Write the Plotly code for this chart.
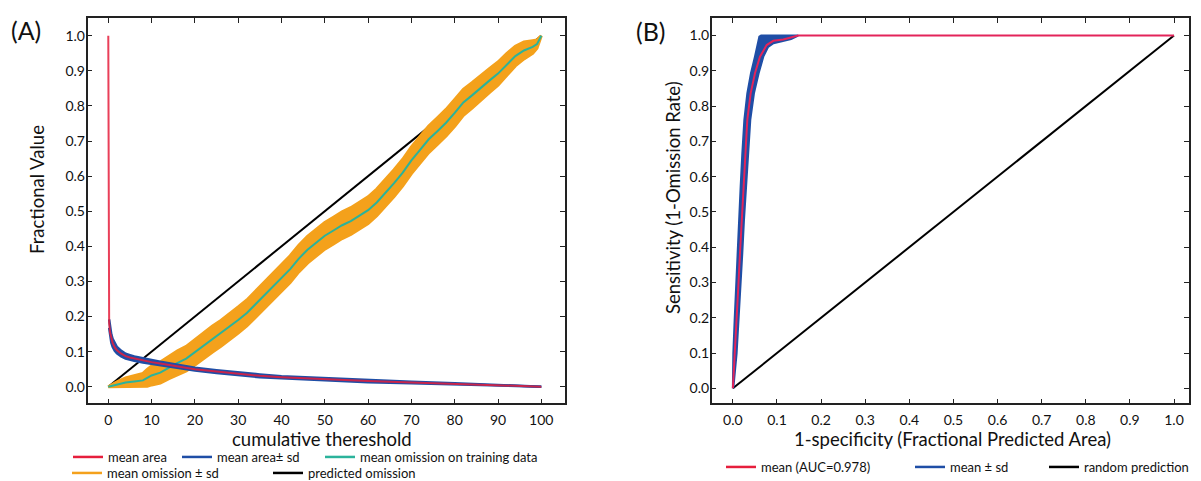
import plotly.graph_objects as go

W, H = 1201, 481
FONT = "Lato, 'Open Sans', sans-serif"

# ---------------- Panel A data ----------------
area_x = [0, 0.05, 0.1, 0.2, 0.4, 0.7, 1, 1.5, 2, 3, 4, 5, 6, 8, 10, 12, 15, 20, 25, 30,
          35, 40, 50, 60, 70, 80, 90, 95, 100]
area_mean = [1.0, 0.5, 0.25, 0.18, 0.155, 0.137, 0.125, 0.112, 0.104, 0.094, 0.087, 0.083,
             0.080, 0.075, 0.070, 0.066, 0.060, 0.050, 0.043, 0.036, 0.031, 0.027, 0.021,
             0.016, 0.012, 0.008, 0.004, 0.002, 0.0]
area_sd = [0, 0.01, 0.01, 0.012, 0.012, 0.012, 0.011, 0.010, 0.009, 0.008, 0.007, 0.007,
           0.006, 0.006, 0.005, 0.005, 0.005, 0.004, 0.004, 0.004, 0.004, 0.003, 0.003,
           0.003, 0.002, 0.002, 0.002, 0.001, 0]

thr = [0, 2, 4, 6, 8, 9, 10, 12, 14, 16, 18, 20, 22, 24, 26, 28, 30, 32, 34, 36, 38, 40,
       42, 44, 46, 48, 50, 52, 54, 56, 58, 60, 62, 64, 66, 68, 70, 72, 74, 76, 78, 80, 82,
       84, 86, 88, 90, 92, 94, 96, 98, 99, 100]
omission_mean = [0, 0.006, 0.012, 0.015, 0.018, 0.025, 0.032, 0.040, 0.055, 0.068, 0.080,
                 0.098, 0.118, 0.135, 0.152, 0.170, 0.190, 0.210, 0.235, 0.260, 0.285, 0.310,
                 0.335, 0.365, 0.390, 0.410, 0.430, 0.445, 0.460, 0.472, 0.487, 0.503, 0.525,
                 0.552, 0.580, 0.610, 0.645, 0.675, 0.705, 0.728, 0.752, 0.780, 0.810, 0.830,
                 0.852, 0.872, 0.892, 0.918, 0.942, 0.958, 0.968, 0.976, 1.0]
omission_sd = [0, 0.008, 0.013, 0.016, 0.020, 0.024, 0.027, 0.030, 0.032, 0.034, 0.035,
               0.036, 0.037, 0.037, 0.037, 0.037, 0.037, 0.037, 0.037, 0.037, 0.037, 0.037,
               0.038, 0.038, 0.038, 0.038, 0.038, 0.038, 0.038, 0.038, 0.038, 0.038, 0.038,
               0.038, 0.038, 0.038, 0.038, 0.038, 0.038, 0.038, 0.038, 0.038, 0.037, 0.036,
               0.035, 0.034, 0.033, 0.031, 0.028, 0.024, 0.018, 0.012, 0]

pred_x = [0, 100]
pred_y = [0, 1]

x_ticks_a = [0, 10, 20, 30, 40, 50, 60, 70, 80, 90, 100]
y_ticks = [0.0, 0.1, 0.2, 0.3, 0.4, 0.5, 0.6, 0.7, 0.8, 0.9, 1.0]

# ---------------- Panel B data ----------------
roc_x = [0, 0.0048, 0.0085, 0.0123, 0.0161, 0.0199, 0.0237, 0.0274, 0.0327, 0.0403,
         0.0501, 0.0614, 0.0766, 0.0917, 0.1143, 0.148, 1.0]
roc_y = [0, 0.099, 0.194, 0.288, 0.383, 0.477, 0.572, 0.666, 0.761, 0.836, 0.893, 0.940,
         0.973, 0.985, 0.989, 1.0, 1.0]

roc_hi_x = [0, 0.001, 0.004, 0.007, 0.011, 0.0146, 0.0176, 0.0214, 0.026, 0.0327, 0.041,
            0.050, 0.056, 0.060, 0.064]
roc_hi_y = [0, 0.099, 0.194, 0.288, 0.383, 0.477, 0.572, 0.666, 0.761, 0.836, 0.893,
            0.940, 0.978, 0.997, 1.0]
roc_lo_x = [0.001, 0.0085, 0.013, 0.0169, 0.0214, 0.0252, 0.0297, 0.0342, 0.0395, 0.0478,
            0.0584, 0.0690, 0.080, 0.092, 0.112, 0.132, 0.148]
roc_lo_y = [0, 0.099, 0.194, 0.288, 0.383, 0.477, 0.572, 0.666, 0.761, 0.836, 0.893,
            0.940, 0.968, 0.978, 0.984, 0.990, 1.0]

rand_x = [0, 1]
rand_y = [0, 1]
x_ticks_b = [0.0, 0.1, 0.2, 0.3, 0.4, 0.5, 0.6, 0.7, 0.8, 0.9, 1.0]

RED = "#e61e3c"
BLUE = "#1f4ea6"
TEAL = "#2bb39b"
ORANGE = "#f4a11c"
BLACK = "#000000"
RED_B = "#e3245a"


def px(p):
    return p / W


def py(p):
    return 1 - p / H


fig = go.Figure()

# ---- Panel A ----
fig.add_trace(go.Scatter(x=pred_x, y=pred_y, mode="lines", line=dict(color=BLACK, width=2),
                         xaxis="x", yaxis="y", showlegend=False, hoverinfo="skip"))
om_hi = [m + s for m, s in zip(omission_mean, omission_sd)]
om_lo = [max(m - s, 0) for m, s in zip(omission_mean, omission_sd)]
fig.add_trace(go.Scatter(x=thr, y=om_hi, mode="lines", line=dict(color=ORANGE, width=3),
                         xaxis="x", yaxis="y", showlegend=False, hoverinfo="skip"))
fig.add_trace(go.Scatter(x=thr, y=om_lo, mode="lines", line=dict(color=ORANGE, width=3),
                         fill="tonexty", fillcolor=ORANGE,
                         xaxis="x", yaxis="y", showlegend=False, hoverinfo="skip"))
fig.add_trace(go.Scatter(x=thr, y=omission_mean, mode="lines", line=dict(color=TEAL, width=2),
                         xaxis="x", yaxis="y", showlegend=False))
ar_hi = [m + s for m, s in zip(area_mean, area_sd)]
ar_lo = [m - s for m, s in zip(area_mean, area_sd)]
fig.add_trace(go.Scatter(x=area_x[3:], y=ar_hi[3:], mode="lines", line=dict(color=BLUE, width=2.5),
                         xaxis="x", yaxis="y", showlegend=False, hoverinfo="skip"))
fig.add_trace(go.Scatter(x=area_x[3:], y=ar_lo[3:], mode="lines", line=dict(color=BLUE, width=2.5),
                         fill="tonexty", fillcolor=BLUE,
                         xaxis="x", yaxis="y", showlegend=False, hoverinfo="skip"))
fig.add_trace(go.Scatter(x=area_x, y=area_mean, mode="lines", line=dict(color=RED, width=2),
                         opacity=0.85, xaxis="x", yaxis="y", showlegend=False))

# legend entries for panel A
leg_a = [("mean area", RED, "legend"), ("mean area\u00b1 sd", BLUE, "legend2"),
         ("mean omission on training data", TEAL, "legend3"),
         ("mean omission \u00b1 sd", ORANGE, "legend4"), ("predicted omission", BLACK, "legend5")]
for name, col, lg in leg_a:
    fig.add_trace(go.Scatter(x=[None], y=[None], mode="lines", name=name,
                             line=dict(color=col, width=2.5), xaxis="x", yaxis="y", legend=lg))

# ---- Panel B ----
fig.add_trace(go.Scatter(x=rand_x, y=rand_y, mode="lines", line=dict(color=BLACK, width=2),
                         xaxis="x2", yaxis="y2", showlegend=False, hoverinfo="skip"))
band_x = roc_hi_x + roc_lo_x[::-1]
band_y = roc_hi_y + roc_lo_y[::-1]
fig.add_trace(go.Scatter(x=band_x, y=band_y, mode="lines", fill="toself", fillcolor=BLUE,
                         line=dict(color=BLUE, width=2), xaxis="x2", yaxis="y2",
                         showlegend=False, hoverinfo="skip"))
fig.add_trace(go.Scatter(x=roc_x, y=roc_y, mode="lines", line=dict(color=RED_B, width=2),
                         xaxis="x2", yaxis="y2", showlegend=False))
leg_b = [("mean (AUC=0.978)", RED, "legend6"), ("mean \u00b1 sd", BLUE, "legend7"),
         ("random prediction", BLACK, "legend8")]
for name, col, lg in leg_b:
    fig.add_trace(go.Scatter(x=[None], y=[None], mode="lines", name=name,
                             line=dict(color=col, width=2.5), xaxis="x2", yaxis="y2", legend=lg))

axis_common = dict(showgrid=False, zeroline=False, showline=True, linecolor="#222",
                   linewidth=1.5, mirror="ticks", ticks="inside", ticklen=5, tickwidth=1.2,
                   tickcolor="#222", automargin=False,
                   tickfont=dict(family=FONT, size=14, color="#111"))

TOP, BOT = 18.3, 403.3
fig.update_layout(
    width=W, height=H, margin=dict(l=0, r=0, t=0, b=0, autoexpand=False),
    paper_bgcolor="white", plot_bgcolor="white",
    xaxis=dict(domain=[px(87.5), px(565)], range=[-4.80, 105.47], tickvals=x_ticks_a,
               anchor="y", ticklabelstandoff=3, **axis_common),
    yaxis=dict(domain=[py(BOT), py(TOP)], range=[-0.0473, 1.0496], tickvals=y_ticks,
               tickformat=".1f", anchor="x", ticklabelstandoff=-2, **axis_common),
    xaxis2=dict(domain=[px(711.7), px(1189)], range=[-0.048, 1.0340], tickvals=x_ticks_b,
                tickformat=".1f", anchor="y2", ticklabelstandoff=3, **axis_common),
    yaxis2=dict(domain=[py(BOT), py(TOP)], range=[-0.0425, 1.0488], tickvals=y_ticks,
                tickformat=".1f", anchor="x2", ticklabelstandoff=-2, **axis_common),
)

# legends (position = start of the entry text in the reference)
leg_pos = {"legend": (108, 457), "legend2": (217, 457), "legend3": (360, 457),
           "legend4": (107, 473), "legend5": (308, 473),
           "legend6": (761, 467), "legend7": (950, 467), "legend8": (1084, 467)}
for lg, (tx, ty) in leg_pos.items():
    fig.update_layout({lg: dict(x=px(tx - 40), y=py(ty), xanchor="left", yanchor="middle",
                                orientation="h", bgcolor="rgba(0,0,0,0)", borderwidth=0,
                                font=dict(family=FONT, size=13, color="#111"),
                                itemwidth=30, tracegroupgap=0)})

ann = [
    dict(text="(A)", x=px(26), y=py(30), font=dict(size=25, family=FONT, color="#111")),
    dict(text="(B)", x=px(651), y=py(31), font=dict(size=25, family=FONT, color="#111")),
    dict(text="cumulative thereshold", x=px(322), y=py(439), font=dict(size=18.5, family=FONT, color="#111")),
    dict(text="1-specificity (Fractional Predicted Area)", x=px(952), y=py(439),
         font=dict(size=18.5, family=FONT, color="#111")),
    dict(text="Fractional Value", x=px(37), y=py(190), textangle=-90,
         font=dict(size=18.5, family=FONT, color="#111")),
    dict(text="Sensitivity (1-Omission Rate)", x=px(673), y=py(198), textangle=-90,
         font=dict(size=18.5, family=FONT, color="#111")),
]
for a in ann:
    fig.add_annotation(xref="paper", yref="paper", showarrow=False, xanchor="center",
                       yanchor="middle", **a)

fig.write_html("out.html", config={"displayModeBar": False},
               post_script="document.body.style.margin='0px';document.body.style.overflow='hidden';")
